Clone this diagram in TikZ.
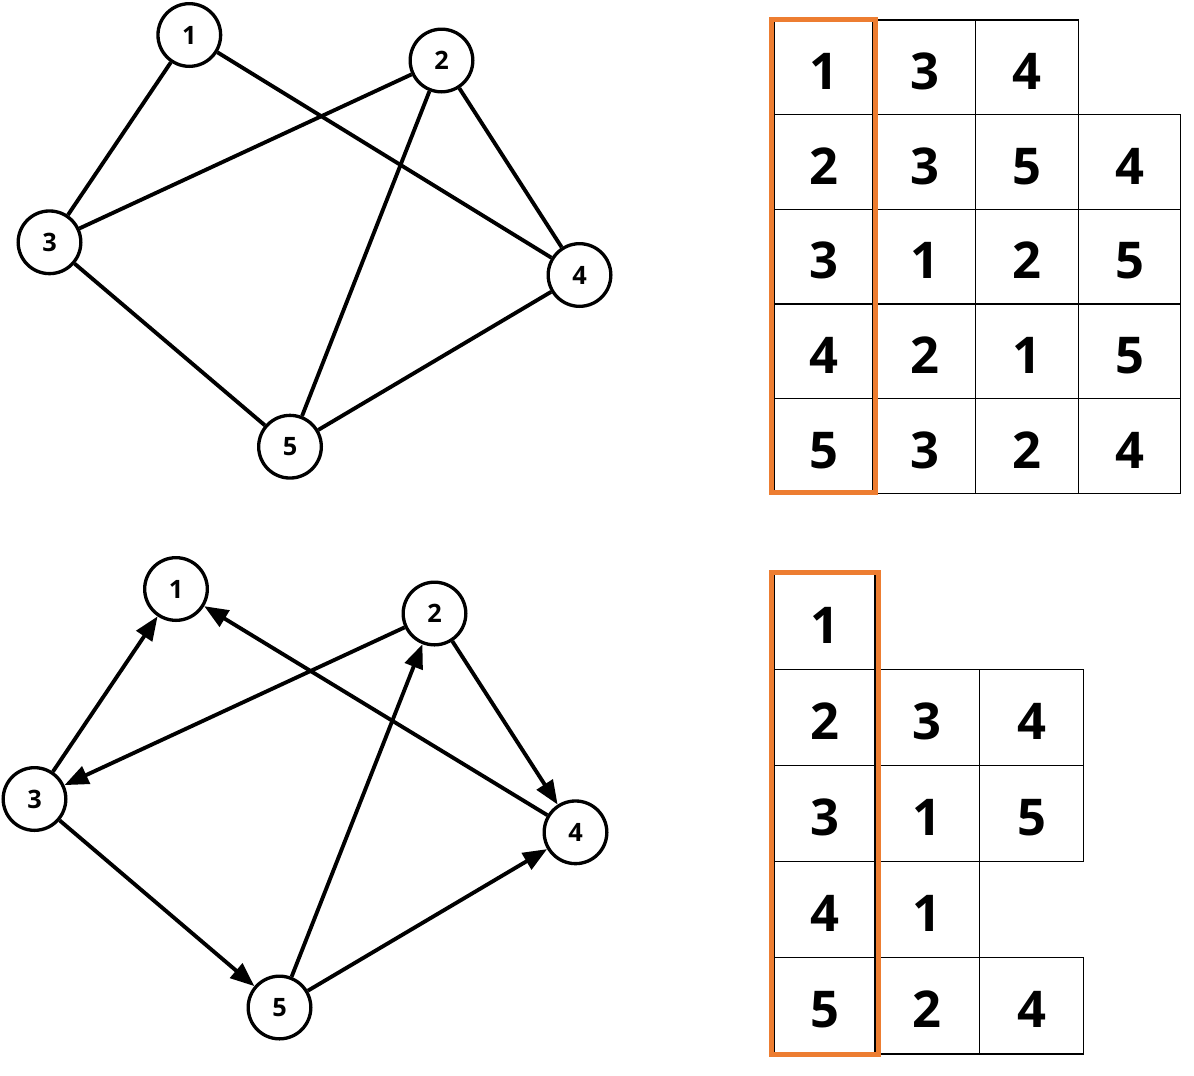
\documentclass[tikz,border=0pt]{standalone}
\usepackage{fontspec}
\setmainfont{Open Sans}
\usetikzlibrary{arrows.meta}
\definecolor{keyorange}{RGB}{237,125,49}

\tikzset{every picture/.style={line width=0.75pt}}
\tikzset{
  vertex/.style={draw, circle, line width=2.5pt, minimum size=47pt, inner sep=0pt,
    font=\fontsize{19}{19}\selectfont\bfseries},
  edge/.style={line width=2.9pt},
  arc/.style={edge, -{Triangle[length=18pt,width=14pt]}},
  cell/.style={draw, line width=1pt, inner sep=0pt, text height=33pt, text depth=0pt,
    font=\fontsize{38}{38}\selectfont\bfseries},
  topcell/.style={cell, minimum height=71pt, minimum width=76.9pt},
  topkey/.style={topcell, minimum width=74.25pt},
  botcell/.style={cell, minimum height=72.15pt, minimum width=78.4pt},
  botkey/.style={botcell, minimum width=75.75pt},
  keybox/.style={draw=keyorange, line width=3.75pt}
}

\begin{document}
\begin{tikzpicture}[x=0.75pt,y=0.75pt,yscale=-1,xscale=1]
\useasboundingbox (0,0) rectangle (1194,1075);

%Shape: Circle (undirected graph)
\node[vertex] (u1) at (189.3,35) {1};
\node[vertex] (u2) at (441.5,60.5) {2};
\node[vertex] (u3) at (49.5,242.3) {3};
\node[vertex] (u4) at (579.5,275) {4};
\node[vertex] (u5) at (290,446.7) {5};

%Straight Lines
\draw[edge] (u1) -- (u3);
\draw[edge] (u1) -- (u4);
\draw[edge] (u2) -- (u3);
\draw[edge] (u2) -- (u5);
\draw[edge] (u2) -- (u4);
\draw[edge] (u3) -- (u5);
\draw[edge] (u5) -- (u4);

%Shape: Circle (directed graph)
\node[vertex] (d1) at (176,589) {1};
\node[vertex] (d2) at (434.5,613.5) {2};
\node[vertex] (d3) at (34.5,799) {3};
\node[vertex] (d4) at (575.5,832.3) {4};
\node[vertex] (d5) at (279.5,1007.5) {5};

%Arrows
\draw[arc] (d3) -- (d1);
\draw[arc] (d4) -- (d1);
\draw[arc] (d2) -- (d3);
\draw[arc] (d5) -- (d2);
\draw[arc] (d2) -- (d4);
\draw[arc] (d3) -- (d5);
\draw[arc] (d5) -- (d4);

% Table: adjacency list of the undirected graph
\node[topkey] (p10) at (823.5,67.3) {1};
\node[topcell] (p11) at (924.5,67.3) {3};
\node[topcell] (p12) at (1027,67.3) {4};

\node[topkey] (p20) at (823.5,162) {2};
\node[topcell] (p21) at (924.5,162) {3};
\node[topcell] (p22) at (1027,162) {5};
\node[topcell] (p23) at (1129.5,162) {4};

\node[topkey] (p30) at (823.5,256.7) {3};
\node[topcell] (p31) at (924.5,256.7) {1};
\node[topcell] (p32) at (1027,256.7) {2};
\node[topcell] (p33) at (1129.5,256.7) {5};

\node[topkey] (p40) at (823.5,351.3) {4};
\node[topcell] (p41) at (924.5,351.3) {2};
\node[topcell] (p42) at (1027,351.3) {1};
\node[topcell] (p43) at (1129.5,351.3) {5};

\node[topkey] (p50) at (823.5,446) {5};
\node[topcell] (p51) at (924.5,446) {3};
\node[topcell] (p52) at (1027,446) {2};
\node[topcell] (p53) at (1129.5,446) {4};

%Shape: Rectangle
\draw[keybox] (771.8,19) rectangle (875.5,492.5);

% Table: adjacency list of the directed graph
\node[botkey] (q10) at (824.5,621.1) {1};

\node[botkey] (q20) at (824.5,717.3) {2};
\node[botcell] (q21) at (927,717.3) {3};
\node[botcell] (q22) at (1031.5,717.3) {4};

\node[botkey] (q30) at (824.5,813.5) {3};
\node[botcell] (q31) at (927,813.5) {1};
\node[botcell] (q32) at (1031.5,813.5) {5};

\node[botkey] (q40) at (824.5,909.7) {4};
\node[botcell] (q41) at (927,909.7) {1};

\node[botkey] (q50) at (824.5,1005.9) {5};
\node[botcell] (q51) at (927,1005.9) {2};
\node[botcell] (q52) at (1031.5,1005.9) {4};

%Shape: Rectangle
\draw[keybox] (771.8,572.5) rectangle (878.2,1054.2);

\end{tikzpicture}
\end{document}
